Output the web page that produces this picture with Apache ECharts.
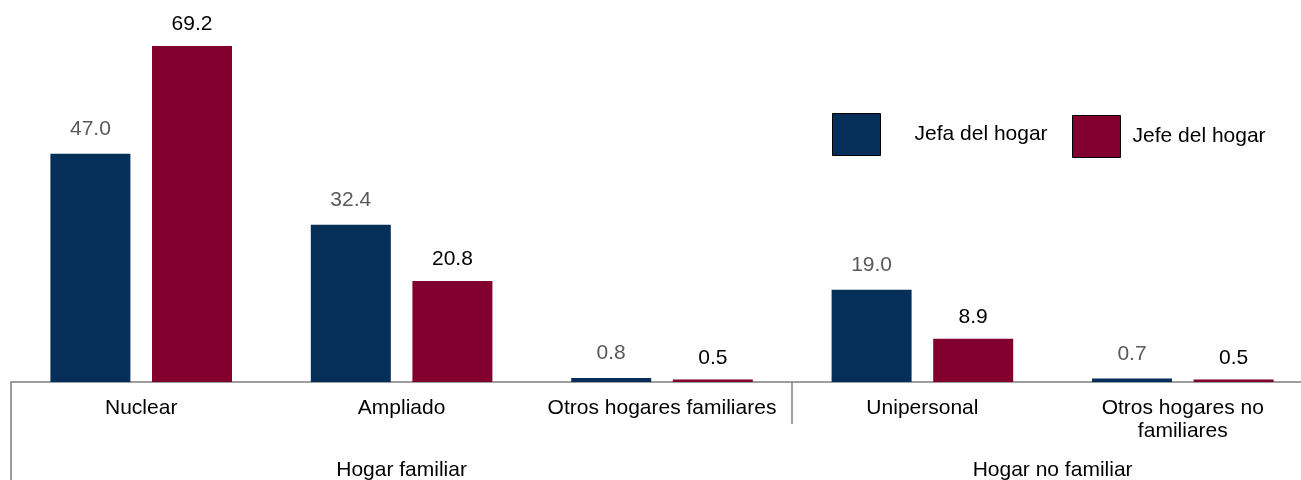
<!DOCTYPE html>
<html>
<head>
<meta charset="utf-8">
<script src="https://cdn.jsdelivr.net/npm/echarts@6/dist/echarts.min.js"></script>
<style>html,body{margin:0;padding:0;background:#fff}#c{width:1301px;height:480px}</style>
</head>
<body>
<div id="c"></div>
<script>
var categories = ['Nuclear', 'Ampliado', 'Otros hogares familiares', 'Unipersonal', 'Otros hogares no\nfamiliares'];
var groupLabels = ['', '', '', 'Hogar familiar', '', '', '', '', 'Hogar no familiar', '', ''];
var jefa = [47.0, 32.4, 0.8, 19.0, 0.7];
var jefe = [69.2, 20.8, 0.5, 8.9, 0.5];
var seriesNames = ['Jefa del hogar', 'Jefe del hogar'];

var FONT = "'Liberation Sans', Arial, sans-serif";
var BLUE = '#052F58';
var RED = '#82002D';
var AXIS = '#7f7f7f';

var chart = echarts.init(document.getElementById('c'), null, {renderer: 'canvas'});
chart.setOption({
  animation: false,
  backgroundColor: '#ffffff',
  textStyle: {fontFamily: FONT},
  grid: {left: 11, width: 1302, top: 42, bottom: 98, containLabel: false, outerBoundsMode: 'none'},
  legend: [
    {
      data: [seriesNames[0]], left: 827, top: 108, itemWidth: 48, itemHeight: 42,
      icon: 'rect', selectedMode: false,
      itemStyle: {borderColor: '#000', borderWidth: 1},
      textStyle: {fontFamily: FONT, fontSize: 21, color: '#000', padding: [0, 0, 0, 29]}
    },
    {
      data: [seriesNames[1]], left: 1067, top: 110, itemWidth: 48, itemHeight: 42,
      icon: 'rect', selectedMode: false,
      itemStyle: {borderColor: '#000', borderWidth: 1},
      textStyle: {fontFamily: FONT, fontSize: 21, color: '#000', padding: [0, 0, 0, 7]}
    }
  ],
  xAxis: [
    {
      type: 'category', data: categories, position: 'bottom',
      axisLine: {show: true, lineStyle: {color: AXIS, width: 1.5}},
      axisTick: {show: false},
      axisLabel: {interval: 0, margin: 15, fontSize: 21, color: '#000', fontFamily: FONT, lineHeight: 23}
    },
    {
      type: 'category', data: groupLabels, position: 'bottom', boundaryGap: false,
      axisLine: {show: false},
      axisTick: {show: true, length: 98, lineStyle: {color: AXIS, width: 1.5},
        interval: function (i) { return i === 0; }},
      axisLabel: {interval: 0, margin: 78, fontSize: 21, color: '#000', fontFamily: FONT}
    },
    {
      type: 'category', data: groupLabels.map(function () { return ''; }), position: 'bottom', boundaryGap: false,
      axisLine: {show: false},
      axisTick: {show: true, length: 42, lineStyle: {color: AXIS, width: 1.5},
        interval: function (i) { return i === 6; }},
      axisLabel: {show: false}
    }
  ],
  yAxis: {
    type: 'value', min: 0, max: 70, show: false,
    splitLine: {show: false}
  },
  series: [
    {
      name: seriesNames[0], type: 'bar', data: jefa, xAxisIndex: 0,
      barWidth: 80, barGap: '27%',
      itemStyle: {color: BLUE},
      label: {show: true, position: 'top', distance: 14, fontSize: 21, color: '#595959',
        fontFamily: FONT, formatter: function (p) { return p.value.toFixed(1); }}
    },
    {
      name: seriesNames[1], type: 'bar', data: jefe, xAxisIndex: 0,
      barWidth: 80, barGap: '27%',
      itemStyle: {color: RED},
      label: {show: true, position: 'top', distance: 11, fontSize: 21, color: '#000',
        fontFamily: FONT, formatter: function (p) { return p.value.toFixed(1); }}
    }
  ]
});
</script>
</body>
</html>
